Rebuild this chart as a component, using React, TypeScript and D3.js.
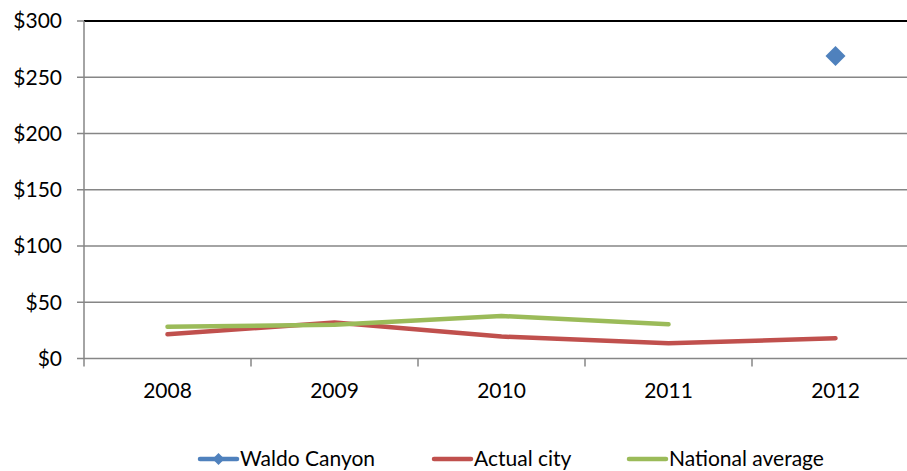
import React from "react";
import * as d3 from "d3";

const years = ["2008", "2009", "2010", "2011", "2012"];
const waldoCanyon: (number | null)[] = [null, null, null, null, 269];
const actualCity: (number | null)[] = [21.5, 32, 19.5, 13.5, 18];
const nationalAverage: (number | null)[] = [28.3, 30, 37.8, 30.4, null];
const yTicks = [0, 50, 100, 150, 200, 250, 300];

const W = 907;
const H = 471;
const left = 84;
const right = 919;
const top = 21;
const bottom = 358.5;
const font = "Lato, 'Open Sans', sans-serif";
const fs = 21;

export default function App() {
  const x = d3.scaleBand<string>().domain(years).range([left, right]).padding(0);
  const y = d3.scaleLinear().domain([0, 300]).range([bottom, top]);
  const cx = (yr: string) => (x(yr) as number) + x.bandwidth() / 2;

  const line = d3
    .line<number | null>()
    .defined((d) => d != null)
    .x((_, i) => cx(years[i]))
    .y((d) => y(d as number));

  const diamond = (px: number, py: number, r: number) =>
    `M${px},${py - r}L${px + r},${py}L${px},${py + r}L${px - r},${py}Z`;

  const legendY = 459;
  const legend = [
    { label: "Waldo Canyon", color: "#4F81BD", x0: 200, marker: true },
    { label: "Actual city", color: "#C0504D", x0: 434, marker: false },
    { label: "National average", color: "#9BBB59", x0: 629, marker: false },
  ];

  return (
    <svg width={W} height={H} style={{ position: "absolute", left: 0, top: 0, background: "#fff" }}>
      {/* gridlines */}
      {yTicks.map((t) => (
        <line
          key={"g" + t}
          x1={left}
          x2={W}
          y1={y(t)}
          y2={y(t)}
          stroke={t === 300 ? "#000" : "#868686"}
          strokeWidth={t === 300 ? 2 : 1.5}
        />
      ))}
      {/* y axis */}
      <line x1={left} x2={left} y1={top} y2={bottom} stroke="#868686" strokeWidth={1.5} />
      {yTicks.map((t) => (
        <g key={"yt" + t}>
          <line x1={left - 7} x2={left} y1={y(t)} y2={y(t)} stroke="#868686" strokeWidth={1.5} />
          <text
            x={left - 22}
            y={y(t)}
            dy="0.35em"
            textAnchor="end"
            fontFamily={font}
            fontSize={fs}
            fill="#000"
          >
            {"$" + t}
          </text>
        </g>
      ))}
      {/* x axis ticks */}
      {[...years.map((yr) => x(yr) as number), right].map((px, i) => (
        <line key={"xt" + i} x1={px} x2={px} y1={bottom} y2={bottom + 8} stroke="#868686" strokeWidth={1.5} />
      ))}
      {years.map((yr) => (
        <text
          key={"xl" + yr}
          x={cx(yr)}
          y={398}
          textAnchor="middle"
          fontFamily={font}
          fontSize={fs}
          fill="#000"
        >
          {yr}
        </text>
      ))}
      {/* series */}
      <path d={line(actualCity) || ""} fill="none" stroke="#C0504D" strokeWidth={4.5} strokeLinecap="round" strokeLinejoin="round" />
      <path d={line(nationalAverage) || ""} fill="none" stroke="#9BBB59" strokeWidth={4.5} strokeLinecap="round" strokeLinejoin="round" />
      {waldoCanyon.map((v, i) =>
        v == null ? null : <path key={"w" + i} d={diamond(cx(years[i]), y(v), 10)} fill="#4F81BD" />
      )}
      {/* legend */}
      {legend.map((l) => (
        <g key={l.label}>
          <line x1={l.x0} x2={l.x0 + 37} y1={legendY} y2={legendY} stroke={l.color} strokeWidth={4.5} strokeLinecap="round" />
          {l.marker && <path d={diamond(l.x0 + 18.5, legendY, 6)} fill={l.color} />}
          <text x={l.x0 + 40} y={legendY} dy="0.35em" fontFamily={font} fontSize={fs} fill="#000">
            {l.label}
          </text>
        </g>
      ))}
    </svg>
  );
}
